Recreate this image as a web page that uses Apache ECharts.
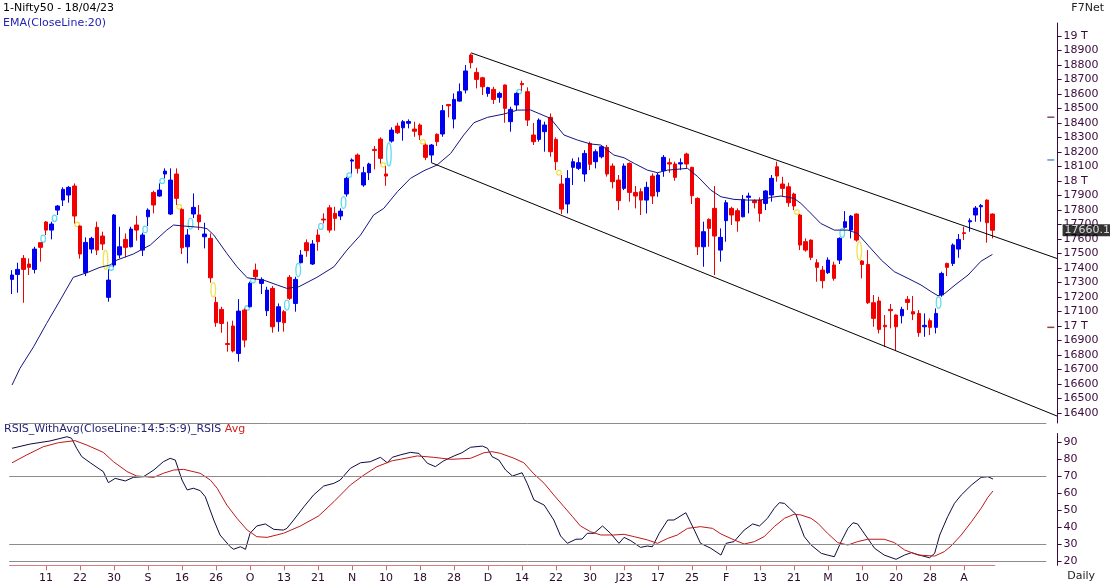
<!DOCTYPE html>
<html>
<head>
<meta charset="utf-8">
<title>Nifty50 daily</title>
<script src="https://cdn.jsdelivr.net/npm/echarts@6/dist/echarts.min.js"></script>
<style>
  html, body { margin: 0; padding: 0; background: #fff; }
  #chart { width: 1110px; height: 586px; }
</style>
</head>
<body>
<div id="chart"></div>
<script>
// daily candles 02/08/22 .. 18/04/23, rows are [open, high, low, close]
var candles = [
  [17321,17385,17220,17351],[17355,17436,17229,17390],[17466,17489,17160,17390],[17427,17466,17351,17404],
  [17390,17546,17362,17530],[17574,17576,17443,17542],[17717,17723,17627,17661],[17661,17719,17597,17703],
  [17799,17834,17765,17827],[17868,17956,17827,17942],[17903,17965,17850,17956],[17965,17983,17707,17758],
  [17689,17693,17464,17496],[17367,17611,17344,17576],[17530,17615,17500,17604],[17680,17719,17489,17523],
  [17620,17650,17523,17565],[17197,17390,17167,17316],[17420,17772,17408,17765],[17489,17684,17466,17546],
  [17597,17638,17473,17542],[17546,17684,17542,17668],[17696,17760,17588,17661],[17523,17643,17482,17627],
  [17753,17811,17689,17799],[17921,17933,17776,17834],[17896,17983,17891,17937],[18048,18087,18018,18068],
  [17772,18087,17765,18006],[18048,18087,17834,17880],[17804,17811,17496,17539],[17546,17668,17431,17627],
  [17772,17914,17744,17818],[17766,17834,17661,17718],[17615,17712,17535,17634],[17604,17638,17298,17332],
  [17162,17201,16994,17022],[17114,17132,16953,17017],[16878,17029,16822,16872],[16999,17036,16817,16827],
  [16810,17185,16753,17102],[17109,17120,16852,16902],[17132,17305,17128,17293],[17385,17430,17318,17339],
  [17293,17335,17220,17321],[17105,17270,17068,17247],[17259,17275,16953,16994],[17029,17155,16960,17132],
  [17098,17109,16960,17022],[17335,17351,17178,17190],[17155,17339,17098,17321],[17436,17523,17431,17489],
  [17574,17597,17477,17519],[17427,17592,17420,17565],[17627,17666,17519,17581],[17737,17777,17707,17731],
  [17815,17834,17643,17661],[17776,17822,17657,17742],[17758,17811,17730,17792],[17910,18029,17892,18018],
  [18137,18156,18052,18145],[18179,18190,18052,18087],[17972,18098,17960,18057],[18057,18126,18006,18117],
  [18218,18241,18080,18210],[18289,18301,18121,18156],[18048,18103,17967,18034],[18275,18370,18264,18351],
  [18379,18402,18324,18333],[18367,18420,18278,18409],[18398,18425,18363,18410],[18358,18409,18305,18343],
  [18386,18397,18282,18317],[18248,18259,18144,18163],[18179,18255,18126,18248],[18322,18328,18241,18271],
  [18324,18524,18305,18485],[18528,18531,18439,18519],[18427,18604,18363,18563],[18551,18673,18547,18616],
  [18627,18800,18604,18759],[18869,18880,18777,18816],[18749,18781,18639,18701],[18712,18719,18593,18650],
  [18604,18650,18581,18644],[18632,18650,18531,18563],[18577,18616,18540,18604],[18662,18666,18402,18501],
  [18409,18512,18340,18494],[18524,18612,18489,18604],[18673,18692,18622,18664],[18616,18646,18379,18420],
  [18317,18400,18248,18271],[18287,18432,18271,18420],[18340,18409,18202,18386],[18439,18466,18167,18202],
  [18287,18301,18075,18133],[17979,18041,17772,17806],[17841,18075,17776,18018],[18094,18156,17972,18133],
  [18087,18163,18075,18126],[18048,18213,17995,18190],[18259,18271,18075,18115],[18133,18218,18087,18202],
  [18167,18248,18156,18236],[18232,18248,18030,18048],[18103,18121,17949,17995],[18006,18041,17799,17864],
  [17949,18121,17937,18103],[18121,18128,17857,17921],[17921,17965,17811,17896],[17926,17949,17765,17868],
  [17868,17995,17776,17956],[18034,18052,17841,17896],[17926,18057,17891,18041],[18071,18179,18029,18163],
  [18126,18156,18057,18117],[18117,18133,18002,18025],[18117,18156,18075,18126],[18186,18195,18087,18117],
  [18094,18098,17841,17898],[17880,17887,17489,17546],[17546,17719,17408,17650],[17735,17742,17546,17673],
  [17811,17965,17351,17620],[17523,17673,17443,17611],[17726,17868,17581,17850],[17811,17822,17696,17765],
  [17795,17811,17650,17724],[17753,17903,17749,17873],[17887,17919,17776,17896],[17864,17873,17811,17850],
  [17868,17887,17719,17776],[17845,17937,17799,17931],[17903,18041,17857,18018],[18098,18133,17995,18034],
  [17979,18029,17891,17949],[17960,17988,17822,17850],[17910,17919,17799,17827],[17765,17772,17523,17558],
  [17581,17604,17512,17523],[17592,17597,17454,17473],[17436,17460,17305,17404],[17385,17413,17259,17312],
  [17367,17473,17358,17454],[17420,17443,17312,17328],[17454,17611,17427,17604],[17680,17792,17671,17719],
  [17661,17765,17604,17758],[17772,17776,17581,17592],[17448,17454,17328,17424],[17424,17523,17151,17160],
  [17160,17213,16994,17052],[17172,17201,16948,16976],[17004,17075,16856,16994],[17114,17151,16983,17105],
  [17075,17079,16827,16994],[17070,17132,17017,17114],[17183,17206,17109,17162],[17098,17206,17040,17082],
  [17086,17109,16925,16953],[16994,17086,16925,17004],[17036,17052,16937,16990],[16990,17121,16948,17086],
  [17213,17374,17201,17362],[17431,17436,17344,17404],[17431,17569,17413,17558],[17530,17634,17470,17597],
  [17643,17684,17592,17638],[17718,17742,17650,17726],[17765,17827,17719,17813],[17822,17841,17719,17830],
  [17868,17873,17574,17712],[17772,17776,17604,17660]
];

// EMA(20), [bar index, value]
var ema = [
  [0,16592],[1.4,16707],[3.8,16856],[6.1,17017],[8.5,17178],[10.8,17335],[13.2,17367],[15.5,17404],
  [17.3,17420],[18.5,17454],[21.4,17496],[24.4,17558],[27.3,17661],[28.5,17696],[30.3,17689],[33.2,17680],
  [34.4,17671],[35.6,17627],[37.9,17500],[39.7,17408],[41.5,17332],[44.4,17316],[46.8,17282],[48.5,17259],
  [50.6,17270],[53.8,17335],[56.8,17408],[59.1,17523],[61.5,17627],[63.8,17765],[65.6,17811],[68.0,17926],
  [70.3,18018],[72.7,18071],[75.0,18110],[77.4,18190],[79.7,18317],[81.5,18402],[83.9,18439],[86.8,18462],
  [89.2,18489],[91.5,18490],[95.0,18432],[97.4,18317],[99.8,18282],[102.1,18255],[103.9,18248],[106.2,18179],
  [108.0,18160],[109.8,18121],[112.1,18075],[113.9,18057],[115.7,18075],[119.2,18087],[121.0,18030],
  [123.3,17937],[125.1,17891],[127.4,17873],[129.8,17868],[132.1,17868],[133.9,17887],[135.7,17896],
  [138.0,17880],[139.2,17845],[140.4,17799],[142.7,17707],[145.1,17661],[147.5,17661],[149.2,17638],
  [151.0,17558],[153.4,17454],[155.7,17374],[158.1,17328],[160.4,17282],[162.2,17236],[163.4,17208],
  [164.6,17224],[166.4,17282],[168.7,17351],[171.0,17447],[173.0,17493]
];

// RSIS and its average, [bar index, value]
var rsi = [
  [0,86.3],[3.2,88.8],[6.7,90.6],[9.7,93.1],[10.5,92.2],[11.4,86.3],[12.3,81.4],[13.8,77.8],[15.5,73.9],
  [16.1,72.6],[17.0,66.1],[18.2,68.6],[20.0,67.1],[21.4,69.2],[23.2,69.6],[25.0,73.5],[26.7,78.4],
  [27.9,80.4],[28.8,79.4],[30.0,67.6],[30.9,61.8],[32.0,62.8],[33.2,61.4],[34.1,57.8],[35.6,44.1],
  [36.7,35.3],[38.5,28.4],[39.1,26.9],[40.3,28.4],[41.2,26.9],[42.0,36.3],[43.2,40.6],[44.7,41.8],
  [46.2,38.6],[47.9,38.2],[48.5,39.2],[49.7,44.1],[51.5,51.9],[53.2,58.8],[55.0,64.1],[56.8,65.7],
  [57.9,67.6],[59.7,74.5],[61.5,77.8],[63.2,78.4],[65.0,81.0],[66.2,77.8],[67.1,81.0],[68.5,82.4],
  [70.3,83.9],[71.8,83.3],[73.3,77.5],[74.7,75.5],[76.2,79.0],[78.0,81.8],[79.4,83.7],[80.9,86.9],
  [83.0,87.6],[83.9,86.3],[84.7,81.4],[85.9,79.4],[87.1,73.5],[88.3,70.0],[90.0,71.9],[90.9,65.7],
  [92.1,55.9],[93.9,52.9],[95.6,44.1],[96.8,34.7],[98.0,30.4],[99.5,32.8],[100.6,32.9],[101.5,36.3],
  [102.7,36.3],[104.2,40.6],[105.6,36.3],[107.1,30.4],[108.0,33.9],[109.2,31.9],[110.9,28.0],[112.1,28.8],
  [113.0,28.4],[114.2,36.3],[115.7,44.1],[116.8,44.1],[118.9,48.4],[120.4,38.2],[121.5,30.4],[123.3,27.5],
  [125.1,23.5],[126.0,30.4],[127.4,31.4],[129.2,38.2],[130.7,41.8],[131.9,40.6],[133.3,45.1],[134.5,51.0],
  [135.4,54.3],[136.3,53.9],[137.2,51.0],[138.3,47.6],[139.8,34.3],[141.0,29.4],[142.8,24.5],[143.9,23.5],
  [145.1,22.5],[146.3,31.4],[147.5,39.2],[148.4,42.5],[149.2,41.8],[150.7,34.7],[152.2,27.5],[153.9,23.5],
  [156.0,21.0],[157.5,23.5],[158.7,24.9],[160.1,23.5],[161.9,21.9],[162.8,24.5],[163.7,35.3],[165.1,46.1],
  [166.3,53.9],[167.5,58.8],[169.3,64.7],[171.0,69.2],[172.2,69.6],[173.1,68.2]
];
var rsiAvg = [
  [0,77.8],[2.6,82.4],[5.5,87.2],[8.2,89.6],[11.1,90.8],[13.2,88.2],[16.1,83.9],[17.9,78.4],[20.3,72.6],
  [22.0,70.0],[25.0,69.2],[26.7,71.6],[28.5,73.5],[30.3,73.9],[33.2,71.6],[35.0,67.6],[36.2,62.8],
  [37.9,52.9],[39.7,45.1],[41.5,38.2],[43.2,34.3],[45.0,33.9],[47.9,36.3],[50.9,40.6],[54.1,46.5],
  [56.8,54.9],[59.7,64.7],[62.1,70.6],[64.4,75.5],[67.1,79.0],[68.5,79.8],[71.5,81.8],[74.4,81.0],
  [77.4,79.8],[80.9,80.4],[83.3,83.7],[84.7,84.3],[86.2,83.3],[88.6,80.4],[90.3,77.8],[92.1,71.2],
  [93.9,65.7],[95.6,58.8],[97.4,51.9],[98.9,46.1],[100.3,40.6],[102.1,37.2],[103.9,35.3],[106.2,35.3],
  [108.0,35.7],[109.8,34.3],[112.1,32.4],[113.9,30.4],[115.7,33.3],[117.4,35.3],[119.2,39.2],[121.5,40.2],
  [123.6,39.2],[125.1,35.9],[127.4,32.4],[129.2,30.0],[131.0,31.4],[132.7,34.3],[134.5,40.2],[136.3,45.1],
  [138.0,47.5],[139.2,47.1],[141.0,45.1],[142.2,42.2],[143.9,36.3],[145.7,30.8],[147.5,29.4],[149.2,31.4],
  [151.0,32.8],[153.9,32.8],[155.7,30.8],[157.5,26.5],[159.9,23.5],[162.8,22.9],[164.5,25.5],[165.7,28.8],
  [167.5,35.3],[169.3,43.1],[171.0,51.0],[172.2,57.5],[173.1,61.2]
];

// channel lines drawn on the chart
var upperTrend = [[81, 18884], [184.4, 17465]];
var lowerTrend = [[74, 18126], [184.4, 16378]];

// small level markers next to the price scale
var sideMarks = [[183.3, 18440, '#5a1a5a'], [183.3, 18145, '#2f7fd0'], [183.3, 16990, '#7a1010']];

var xTickIdx = [6,12,18,24,30,36,42,48,54,60,66,72,78,84,90,96,102,108,114,120,126,132,138,144,150,156,162,168];
var xLabels = ['11','22','30','S','16','26','O','13','21','N','10','18','28','D','14','22','30','J23','17','25','F','13','21','M','10','20','28','A'];
var priceTicks = [16400,16500,16600,16700,16800,16900,17000,17100,17200,17300,17400,17500,17600,17700,
  17800,17900,18000,18100,18200,18300,18400,18500,18600,18700,18800,18900,19000];
var rsiTicks = [20,30,40,50,60,70,80,90];
var rsiLevels = [70, 30, 20];
var lastPrice = 17660.1;

var FONT = 'DejaVu Sans';
var AXIS_COL = '#3a0a3a';

// candlestick wants [x, open, close, low, high]
var candleData = candles.map(function (c, i) { return [i, c[0], c[3], c[2], c[1]]; });

// gap marks between bars: cyan for gap up, yellow for gap down
var gaps = [];
for (var i = 1; i < candles.length; i++) {
  var prev = candles[i - 1], cur = candles[i];
  if (cur[2] > prev[1]) gaps.push([i - 0.5, prev[1], cur[2], 1]);
  else if (cur[1] < prev[2]) gaps.push([i - 0.5, cur[1], prev[2], 0]);
}

var labelMap = {};
xTickIdx.forEach(function (v, k) { labelMap[v] = xLabels[k]; });

var noLabel = { show: false };

var myChart = echarts.init(document.getElementById('chart'));

var option = {
  animation: false,
  backgroundColor: '#fff',
  textStyle: { fontFamily: FONT },
  title: [
    { text: '1-Nifty50 - 18/04/23', left: 3, top: 3, padding: 0,
      textStyle: { fontSize: 11, fontWeight: 'normal', color: '#000', fontFamily: FONT } },
    { text: 'EMA(CloseLine:20)', left: 3, top: 18, padding: 0,
      textStyle: { fontSize: 11, fontWeight: 'normal', color: '#2323b4', fontFamily: FONT } },
    { text: 'F7Net', right: 6, top: 3, padding: 0,
      textStyle: { fontSize: 11, fontWeight: 'normal', color: '#222', fontFamily: FONT } },
    { text: '{a|RSIS_WithAvg(CloseLine:14:5:S:9)_RSIS} {b|Avg}', left: 4, top: 424, padding: 0,
      textStyle: {
        fontSize: 11, fontWeight: 'normal', fontFamily: FONT,
        rich: {
          a: { fontSize: 11, color: '#1e1e6e', fontFamily: FONT },
          b: { fontSize: 11, color: '#d02020', fontFamily: FONT }
        }
      } },
    { text: 'Daily', right: 15, top: 571, padding: 0,
      textStyle: { fontSize: 11, fontWeight: 'normal', color: '#222', fontFamily: FONT } }
  ],
  grid: [
    { left: 9.2, right: 52.4, top: 23, height: 400 },
    { left: 9.2, right: 52.4, top: 433.5, height: 131.75 }
  ],
  xAxis: [
    { type: 'value', gridIndex: 0, min: -0.5, max: 184.5, show: false,
      axisLine: { onZero: false } },
    { type: 'value', gridIndex: 1, min: -0.5, max: 184.5,
      axisLine: { show: false, onZero: false },
      splitLine: { show: false },
      axisTick: { show: true, length: 5, customValues: xTickIdx, lineStyle: { color: '#c07070' } },
      axisLabel: {
        customValues: xTickIdx, margin: 7, fontSize: 11, color: '#2a0a2a', fontFamily: FONT,
        formatter: function (v) { return labelMap[v] || ''; }
      } }
  ],
  yAxis: [
    { type: 'value', gridIndex: 0, position: 'right', min: 16330, max: 19090,
      splitLine: { show: false },
      axisLine: { show: true, onZero: false, lineStyle: { color: AXIS_COL } },
      axisTick: { show: true, length: 4, customValues: priceTicks, lineStyle: { color: AXIS_COL } },
      axisLabel: {
        customValues: priceTicks, margin: 6, fontSize: 11, color: AXIS_COL, fontFamily: FONT,
        formatter: function (v) { return v % 1000 === 0 ? (v / 1000) + ' T' : String(v); }
      } },
    { type: 'value', gridIndex: 1, position: 'right', min: 17.5, max: 95,
      splitLine: { show: false },
      axisLine: { show: true, onZero: false, lineStyle: { color: AXIS_COL } },
      axisTick: { show: true, length: 4, customValues: rsiTicks, lineStyle: { color: AXIS_COL } },
      axisLabel: { customValues: rsiTicks, margin: 6, fontSize: 11, color: AXIS_COL, fontFamily: FONT } }
  ],
  series: [
    {
      name: 'price', type: 'candlestick', xAxisIndex: 0, yAxisIndex: 0,
      data: candleData, barWidth: 4,
      itemStyle: { color: '#0000f0', color0: '#f00000', borderColor: '#0000f0', borderColor0: '#f00000', borderWidth: 1 },
      markLine: {
        silent: true, symbol: 'none', animation: false, label: noLabel,
        lineStyle: { color: '#8c8c8c', width: 1, type: 'solid' },
        data: [
          [ { coord: [-0.5, 16330], label: noLabel }, { coord: [182.5, 16330], label: noLabel } ]
        ]
      }
    },
    {
      name: 'gaps', type: 'custom', xAxisIndex: 0, yAxisIndex: 0, data: gaps, silent: true,
      renderItem: function (params, api) {
        var a = api.coord([api.value(0), api.value(1)]);
        var b = api.coord([api.value(0), api.value(2)]);
        var ry = Math.max(2.2, Math.abs(a[1] - b[1]) / 2);
        return {
          type: 'ellipse',
          shape: { cx: a[0], cy: (a[1] + b[1]) / 2, rx: 2.3, ry: ry },
          style: { fill: null, stroke: api.value(3) === 1 ? '#62dcec' : '#ece454', lineWidth: 1.3 }
        };
      }
    },
    { name: 'EMA', type: 'line', xAxisIndex: 0, yAxisIndex: 0, data: ema, showSymbol: false,
      lineStyle: { color: '#141482', width: 1 }, silent: true },
    { name: 'upper', type: 'line', xAxisIndex: 0, yAxisIndex: 0, data: upperTrend, showSymbol: false,
      lineStyle: { color: '#000', width: 1 }, silent: true },
    { name: 'lower', type: 'line', xAxisIndex: 0, yAxisIndex: 0, data: lowerTrend, showSymbol: false,
      lineStyle: { color: '#000', width: 1 }, silent: true },
    { name: 'marks', type: 'scatter', xAxisIndex: 0, yAxisIndex: 0, silent: true,
      data: sideMarks.map(function (m) { return { value: [m[0], m[1]], itemStyle: { color: m[2] } }; }),
      symbol: 'rect', symbolSize: [7, 1.5] },
    { name: 'lastPrice', type: 'scatter', xAxisIndex: 0, yAxisIndex: 0, silent: true, z: 10,
      data: [[184.5, lastPrice]], symbolSize: 0, clip: false,
      label: { show: true, position: 'right', distance: 5, formatter: '17660.1',
        backgroundColor: '#000', color: '#fff', padding: [1, 1, 0, 2], fontSize: 11, fontFamily: FONT } },
    {
      name: 'RSIS', type: 'line', xAxisIndex: 1, yAxisIndex: 1, data: rsi, showSymbol: false,
      lineStyle: { color: '#0c0c3c', width: 1 }, silent: true,
      markLine: {
        silent: true, symbol: 'none', animation: false, label: noLabel,
        lineStyle: { color: '#8c8c8c', width: 1, type: 'solid' },
        data: rsiLevels.map(function (v) {
          return [{ coord: [-0.5, v], label: noLabel }, { coord: [182.5, v], label: noLabel }];
        }).concat([[ { coord: [-0.5, 17.5], label: noLabel, lineStyle: { color: '#d08080' } },
                     { coord: [173.5, 17.5], label: noLabel } ]])
      }
    },
    { name: 'Avg', type: 'line', xAxisIndex: 1, yAxisIndex: 1, data: rsiAvg, showSymbol: false,
      lineStyle: { color: '#c01818', width: 1 }, silent: true }
  ]
};

myChart.setOption(option);
</script>
</body>
</html>
